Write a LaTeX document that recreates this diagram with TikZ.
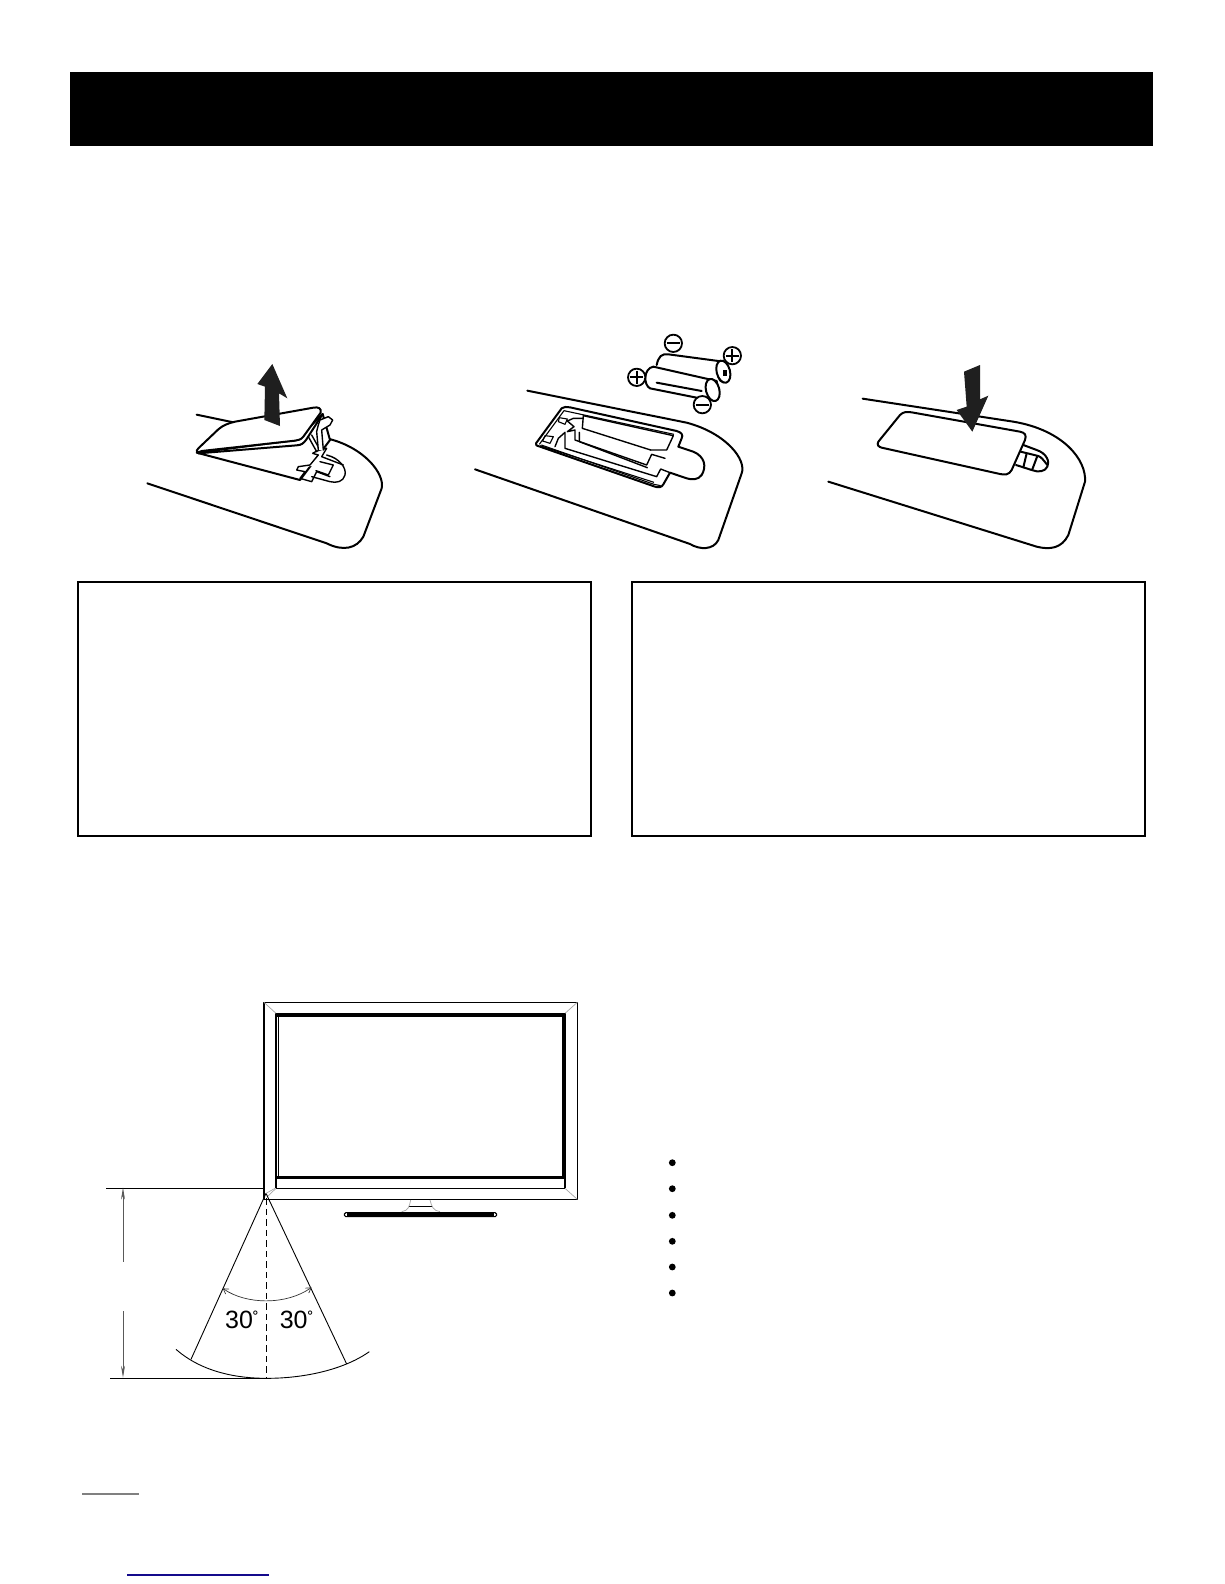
\documentclass[tikz,border=0pt]{standalone}
\usepackage{fontspec}
\setmainfont{Liberation Sans}
\usetikzlibrary{arrows.meta}
\tikzset{
  outline/.style={line width=2pt,line join=round,line cap=round},
  thinoutline/.style={line width=1.4pt,line join=round,line cap=round},
  fineline/.style={line width=1.1pt,line join=round},
  hairline/.style={line width=0.8pt,black!65},
  palegrey/.style={line width=0.7pt,black!35},
  pushdark/.style={fill=black!88,draw=none},
  notebox/.style={line width=2.2pt,draw=black},
  polarity/.style={line width=1.8pt,fill=white},
  polaritybar/.style={line width=1.8pt},
  dotmark/.style={fill=black,draw=none},
  angletext/.style={font=\fontsize{25}{25}\selectfont,inner sep=0pt}
}
\newcommand{\smallring}{\raisebox{3.5pt}{\fontsize{18}{18}\selectfont ˚}}
\begin{document}
\begin{tikzpicture}[x=1pt,y=-1pt]
\useasboundingbox (0,0) rectangle (1224,1584);
\fill[white] (0,0) rectangle (1224,1584);
% header
\fill[black] (70,72) rectangle (1153,146);
% remote 1
\begin{scope}[shift={(130,340)},scale=1/3]
\draw[outline] (52,430) -- (590,610) .. controls (640,635) and (680,625) .. (700,590) -- (755,445) .. controls (765,400) and (700,320) .. (590,295);
\draw[outline] (200,224) -- (310,247);
\draw[outline,fill=white] (200,338) -- (510,420) -- (600,300) -- (578,222) -- (500,300) -- cycle;
\draw[thinoutline,fill=white] (590,345) .. controls (630,355) and (650,385) .. (645,405) .. controls (640,425) and (620,430) .. (600,425) -- (545,410);
\draw[thinoutline,fill=white] (505,380) -- (540,375) -- (565,345) -- (548,340) .. controls (560,332) and (575,328) .. (590,325) -- (575,350) -- (640,375);
\draw[thinoutline] (505,380) -- (500,390) -- (525,395) -- (510,415) -- (545,425) -- (560,395) -- (600,410);
\draw[thinoutline] (570,365) -- (610,375) -- (595,405) -- (558,392);
\draw[outline,fill=white] (203,338) .. controls (198,334) and (200,330) .. (205,325) -- (265,268) .. controls (280,255) and (295,250) .. (315,245) -- (550,203) .. controls (565,200) and (575,205) .. (572,218) -- (520,290) .. controls (512,300) and (505,300) .. (495,302) -- (215,333) -- cycle;
\draw[outline] (205,340) -- (500,316) .. controls (515,315) and (520,310) .. (528,300) -- (578,222);
\draw[thinoutline] (535,290) -- (560,335) (545,285) -- (570,330);
\draw[thinoutline,fill=white] (565,330) -- (560,275) -- (565,255) -- (570,240) -- (595,230) -- (608,240) -- (600,255) -- (575,270) -- (580,330);
\fill[pushdark] (427,72) -- (382,132) -- (405,140) -- (403,240) -- (450,258) -- (447,160) -- (472,175) -- cycle;
\end{scope}
% remote 2
\begin{scope}[shift={(460,320)},scale=1/3]
\draw[outline] (45,448) -- (690,672) .. controls (720,690) and (760,690) .. (775,660) -- (845,460) .. controls (860,420) and (800,340) .. (680,308) -- (202,212);
% batteries
\draw[outline,fill=white] (590,135) .. controls (595,110) and (605,100) .. (625,103) -- (790,125) .. controls (812,130) and (812,185) .. (790,187) .. controls (775,185) and (770,160) .. (775,140);
\draw[outline,fill=white,rotate around={15:(790,155)}] (790,155) ellipse (20 and 34);
\draw[outline,fill=white] (580,140) -- (770,183) .. controls (775,200) and (765,240) .. (745,240) -- (570,205) .. controls (550,195) and (550,145) .. (580,140) -- cycle;
\draw[outline,fill=white,rotate around={15:(758,210)}] (758,210) ellipse (20 and 34);
\draw[outline] (590,188) -- (725,213);
\fill[black] (790,150) rectangle (800,168);
\draw[polarity] (530,172) circle (26); \draw[polaritybar] (510,172) -- (550,172) (530,152) -- (530,192);
\draw[polarity] (817,107) circle (26); \draw[polaritybar] (797,107) -- (837,107) (817,87) -- (817,127);
\draw[polarity] (640,70) circle (26); \draw[polaritybar] (620,70) -- (660,70);
\draw[polarity] (727,254) circle (26); \draw[polaritybar] (707,254) -- (747,254);
\end{scope}
\begin{scope}[shift={(530,395)},scale=1/3]
\draw[outline] (18,145) -- (95,40) .. controls (100,35) and (110,35) .. (120,37) -- (440,108) .. controls (455,112) and (460,120) .. (455,130) -- (445,155) -- (490,170) .. controls (525,185) and (530,215) .. (515,240) .. controls (505,255) and (485,255) .. (470,250) -- (420,233) -- (400,268) .. controls (395,278) and (385,278) .. (375,275) -- (30,155) .. controls (20,152) and (15,150) .. (18,145) -- cycle;
\draw[fineline] (28,148) -- (102,47) -- (432,118) (34,150) -- (372,268) -- (392,272);
\draw[fineline] (30,152) -- (372,262);
\draw[thinoutline] (112,78) -- (130,70) -- (158,70);
\draw[thinoutline] (160,62) -- (430,122) -- (410,165) -- (362,165);
\draw[thinoutline] (160,62) -- (157,100) -- (362,165);
\draw[thinoutline] (112,78) -- (132,95) -- (112,110) -- (135,105) -- (135,135) -- (350,210) -- (365,178) -- (405,190);
\draw[thinoutline] (148,112) -- (148,140) -- (352,218);
\draw[thinoutline] (75,155) -- (85,130) -- (105,112) -- (105,160) -- (380,245) -- (392,222) -- (420,233);
\draw[fineline] (88,68) -- (112,72) -- (105,88) -- (85,80) -- cycle (45,122) -- (70,125) -- (60,145) -- (38,138) -- cycle;
\end{scope}
% remote 3
\begin{scope}[shift={(810,350)},scale=1/3]
\draw[outline] (55,395) -- (680,590) .. controls (720,600) and (755,595) .. (775,555) -- (825,395) .. controls (830,330) and (760,240) .. (610,215) -- (158,146);
\draw[outline] (640,285) -- (680,300) .. controls (710,310) and (720,335) .. (712,350) .. controls (705,365) and (685,368) .. (665,360) -- (618,345);
\draw[outline] (632,305) -- (685,318) .. controls (695,322) and (700,330) .. (712,345);
\draw[outline] (650,310) -- (640,352) (682,318) -- (667,358);
\draw[outline,fill=white] (205,275) -- (270,195) .. controls (280,185) and (290,185) .. (305,187) -- (630,245) .. controls (645,248) and (650,255) .. (645,270) -- (605,360) .. controls (597,375) and (585,375) .. (570,372) -- (215,293) .. controls (205,290) and (200,285) .. (205,275) -- cycle;
\fill[pushdark] (510,45) -- (462,65) -- (470,170) -- (440,180) -- (487,245) -- (535,137) -- (510,148) -- cycle;
\end{scope}
% note boxes
\draw[notebox] (78,582) rectangle (591,836);
\draw[notebox] (632,582) rectangle (1145,836);
% television
\begin{scope}[shift={(250,980)},scale=1/3]
\draw[fineline] (42,67) rectangle (982,658);
\draw[fineline] (78,100) -- (78,625) (945,100) -- (945,625);
\draw[fineline] (78,625) -- (945,625);
\draw[line width=3.2pt] (76,105) -- (946,105) (941,105) -- (941,592) (76,592) -- (946,592);
\draw[line width=1.2pt] (85,105) -- (85,592);
\draw[palegrey] (42,67) -- (78,100) (982,67) -- (945,100) (982,658) -- (945,625) (52,650) -- (78,625);
\draw[fineline] (478,680) -- (545,680);
\draw[palegrey] (482,660) .. controls (478,680) and (475,692) .. (455,695) (540,660) .. controls (545,680) and (550,692) .. (570,695);
\draw[fineline,fill=white,rounded corners=1.5pt] (283,698) rectangle (740,710);
\fill[black] (290,700) rectangle (733,708);
\end{scope}
\begin{scope}[shift={(90,1150)},scale=1/3]
\coordinate (apex) at (528,130);
\draw[fineline] (48,115) -- (525,115);
\draw[fineline] (60,685) -- (530,685);
\draw[hairline,-{Stealth[length=12pt,width=4pt]}] (99,335) -- (99,113);
\draw[hairline,-{Stealth[length=12pt,width=4pt]}] (99,483) -- (99,683);
\draw[line width=0.9pt] (apex) -- (303,628) (apex) -- (770,642);
\draw[fineline,dashed,dash pattern=on 6.5pt off 4pt] (529,145) -- (529,685);
\draw[palegrey] (528,130) -- (555,115);
\draw[line width=0.9pt] (258,598) .. controls (340,670) and (450,685) .. (530,685) .. controls (640,685) and (760,660) .. (838,605);
\draw[line width=0.7pt,black!80,{Straight Barb[length=5pt,width=6pt]}-{Straight Barb[length=5pt,width=6pt]}] (398,415) .. controls (470,465) and (590,465) .. (665,412);
\node[angletext] (angleL) at (456,510) {30\smallring};
\node[angletext] (angleR) at (620,510) {30\smallring};
\end{scope}
% bullets
\foreach \yy in {1162.7,1188.7,1215.3,1241.3,1267,1293}
  \fill[dotmark] (672.3,\yy) circle (3.4);
% footer rules
\draw[line width=1.5pt,black!50] (82,1494) -- (139,1494);
\draw[line width=1.5pt,color={rgb,255:red,20;green,10;blue,140}] (127,1575) -- (269,1575);
\end{tikzpicture}
\end{document}
